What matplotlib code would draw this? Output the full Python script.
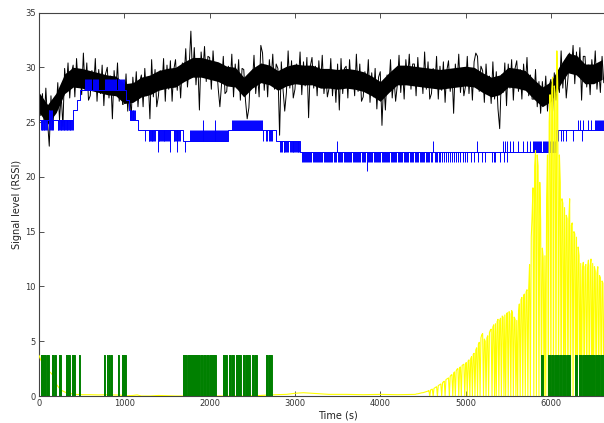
import numpy as np
import matplotlib
matplotlib.use('Agg')
import matplotlib.pyplot as plt

# ---------------- data ----------------
x_max = 6640
x_axis_max = 7000
black_dt = 20
black_v = [
    28.4, 25.6, 27.6, 24.9, 28.1, 25.1, 22.8, 27.4, 24.3, 26.9,
    25.9, 28.6, 25.2, 27.5, 24.6, 29.9, 28.0, 30.4, 27.2, 29.5,
    30.2, 27.3, 30.8, 28.3, 29.7, 27.5, 31.3, 27.9, 30.4, 27.0,
    27.4, 29.7, 28.1, 30.8, 26.9, 29.8, 27.6, 30.2, 26.5, 29.4,
    30.0, 27.2, 29.2, 25.3, 29.7, 27.7, 30.4, 26.9, 28.8, 26.6,
    26.7, 29.4, 26.0, 28.3, 25.4, 29.1, 27.2, 29.6, 26.4, 28.7,
    29.3, 26.4, 29.9, 27.4, 28.8, 25.3, 30.7, 27.3, 29.8, 26.4,
    27.4, 29.7, 28.1, 30.8, 26.9, 30.2, 28.0, 30.6, 26.9, 29.8,
    30.7, 27.9, 29.9, 27.2, 30.4, 29.0, 31.7, 28.2, 30.1, 33.3,
    29.1, 31.8, 28.4, 30.7, 26.1, 31.4, 29.5, 31.9, 28.7, 31.0,
    30.9, 28.0, 31.5, 29.0, 30.4, 28.1, 26.4, 28.5, 31.0, 27.6,
    27.8, 30.1, 28.5, 31.2, 27.3, 30.3, 28.1, 30.7, 27.0, 29.9,
    29.8, 27.0, 25.3, 26.3, 29.5, 28.4, 31.1, 27.6, 29.5, 27.3,
    32.0, 31.3, 27.9, 30.2, 27.3, 30.7, 28.8, 31.2, 28.0, 30.3,
    29.9, 23.8, 30.5, 28.0, 26.0, 27.7, 31.5, 28.1, 30.6, 27.2,
    28.0, 30.3, 28.7, 31.4, 27.5, 30.5, 28.3, 30.9, 25.4, 30.1,
    30.9, 28.1, 30.1, 27.4, 30.6, 28.4, 31.1, 27.6, 29.5, 27.3,
    28.1, 30.8, 27.4, 29.7, 26.8, 30.3, 26.1, 30.8, 27.6, 29.9,
    30.1, 27.2, 30.7, 28.2, 29.6, 27.4, 31.2, 27.8, 30.3, 26.9,
    27.3, 29.6, 28.0, 30.7, 26.8, 29.5, 27.3, 29.9, 26.2, 29.1,
    29.6, 24.7, 28.8, 26.1, 29.3, 28.0, 30.7, 27.2, 29.1, 26.9,
    28.4, 31.1, 27.7, 30.0, 27.1, 30.7, 28.8, 31.2, 28.0, 30.3,
    30.3, 27.4, 30.9, 28.4, 29.8, 27.6, 31.4, 28.0, 30.5, 27.1,
    27.6, 29.9, 28.3, 31.0, 27.1, 30.1, 27.9, 30.5, 26.8, 29.7,
    30.6, 27.8, 29.8, 25.8, 30.3, 28.5, 31.2, 27.7, 29.6, 27.4,
    28.3, 31.0, 27.6, 29.9, 27.0, 30.5, 31.3, 31.0, 27.8, 30.1,
    29.7, 26.8, 30.3, 27.8, 29.2, 26.7, 30.5, 27.1, 29.6, 26.2,
    24.4, 29.3, 27.7, 30.4, 26.5, 30.3, 28.1, 30.7, 27.0, 29.9,
    30.6, 27.8, 29.8, 27.1, 30.3, 28.2, 30.9, 27.4, 29.3, 27.1,
    27.1, 29.8, 26.4, 28.7, 25.8, 28.7, 26.8, 29.2, 26.0, 28.3,
    28.9, 26.0, 29.5, 27.0, 28.4, 27.7, 31.5, 28.1, 30.6, 27.2,
    29.0, 31.3, 29.7, 32.0, 28.5, 31.4, 29.2, 31.8, 27.0, 31.0,
    31.0, 28.2, 30.2, 27.5, 30.7, 28.8, 31.5, 28.0, 29.9, 27.7,
    31.0, 28.6,
]
# dense core of the black trace, every 100 s
black_core_dt = 100
black_core_lo = [25.9, 24.8, 25.85, 27.6, 28.2, 28.1, 27.9, 27.7, 27.5, 27.4,
                 26.7, 26.8, 27.3, 27.5, 27.9, 28.1, 28.2, 28.7, 29.1, 29.1,
                 28.9, 28.7, 28.3, 28.2, 27.3, 28.1, 28.6, 28.4, 27.9, 28.3,
                 28.5, 28.4, 28.4, 28.1, 28.1, 28.0, 28.1, 28.0, 27.8, 27.4,
                 26.9, 27.7, 28.4, 28.4, 28.3, 28.2, 28.1, 28.0, 28.1, 28.2,
                 28.3, 28.2, 27.7, 27.3, 27.5, 28.2, 28.1, 27.9, 27.1, 26.4,
                 26.9, 28.3, 29.5, 29.3, 28.5, 28.5, 28.9]
black_core_hi = [27.7, 26.6, 27.65, 29.4, 30.0, 29.9, 29.7, 29.5, 29.3, 29.2,
                 28.5, 28.6, 29.1, 29.3, 29.7, 29.9, 30.0, 30.5, 30.9, 30.9,
                 30.7, 30.5, 30.1, 30.0, 29.1, 29.9, 30.4, 30.2, 29.7, 30.1,
                 30.3, 30.2, 30.2, 29.9, 29.9, 29.8, 29.9, 29.8, 29.6, 29.2,
                 28.7, 29.5, 30.2, 30.2, 30.1, 30.0, 29.9, 29.8, 29.9, 30.0,
                 30.1, 30.0, 29.5, 29.1, 29.3, 30.0, 29.9, 29.7, 28.9, 28.2,
                 28.7, 30.1, 31.3, 31.1, 30.3, 30.3, 30.7]

# blue: baseline steps
blue_step_t = [0, 400, 440, 480, 1025, 1050, 1070, 1165, 1685, 2215, 2780, 3065, 6060, 6640]
blue_step_v = [25.15, 26.1, 27.0, 27.9, 27.0, 26.1, 25.15, 24.25, 23.25, 24.25, 23.25, 22.3, 24.25, 24.25]

# blue: short excursions to another level
blue_to_289 = [540, 552, 563, 575, 590, 602, 615, 628, 640, 655, 668, 680, 695,
               770, 782, 793, 805, 816, 828, 840, 851, 862, 874, 885, 897, 908,
               920, 931, 943, 954, 966, 977, 989, 1000]
blue_to_261 = [112, 122, 133, 145, 156, 1072, 1080, 1088, 1096, 1104, 1112, 1120]
blue_to_2515 = [1918, 2063,
                2262, 2272, 2283, 2295, 2305, 2318, 2330, 2341, 2352, 2365, 2378,
                2390, 2402, 2414, 2425, 2437, 2450, 2462, 2473, 2485, 2497, 2510,
                2522, 2533, 2545, 2557, 2570, 2582, 2594, 2606, 2618,
                6322, 6341, 6380, 6438, 6466, 6518, 6528, 6540, 6552, 6563, 6575,
                6587, 6600, 6612, 6624, 6636]
blue_to_2425 = [22, 30, 38, 46, 55, 63, 71, 80, 88, 115, 126, 137, 148, 160,
                218, 226, 235, 244, 252, 261, 270, 280, 290, 298, 306, 315, 324,
                333, 342, 351, 360, 368, 377, 386, 395,
                1772, 1782, 1793, 1804, 1815, 1826, 1838, 1850, 1862, 1874, 1886,
                1897, 1909, 1920, 1932, 1945, 1957, 1968, 1980, 1992, 2004, 2015,
                2028, 2040, 2052, 2064, 2076, 2088, 2100, 2112, 2124, 2136, 2148,
                2160, 2172, 2184, 2196, 2208]
blue_to_2325 = [1243, 1285, 1293, 1302, 1311, 1320, 1330, 1340, 1350, 1360,
                1402, 1412, 1421, 1430, 1440, 1450, 1460, 1470, 1480, 1490, 1500,
                1510, 1520, 1532, 1578, 1588, 1598, 1610, 1620, 1632, 1643, 1652,
                2628, 2660, 2668, 2700, 2712, 2722, 2735,
                3490, 4622, 5130, 5434, 5462, 5489, 5520, 5559, 5618, 5676, 5715,
                5755, 5794, 5806, 5818, 5830, 5842, 5854, 5866, 5878, 5890, 5902,
                5914, 5926, 5938, 5950, 5962, 5974, 5986, 5998, 6010, 6022, 6034,
                6046, 6087, 6115, 6146, 6173, 6263, 6368]
blue_to_223 = [1400, 1535, 1614, 1712,
               2828, 2837, 2846, 2868, 2877, 2886, 2895, 2904, 2913, 2946, 2955,
               2964, 2973, 2982, 2991, 3000, 3010, 3020, 3030, 3040, 3050]
blue_to_2135 = [3080, 3092, 3105, 3116, 3130, 3141, 3155, 3168, 3180, 3193, 3207,
                3220, 3232, 3246, 3258, 3270, 3284, 3297, 3310, 3322, 3336, 3350,
                3362, 3376, 3388, 3402, 3415, 3428, 3440, 3455, 3468, 3481, 3504,
                3517, 3530, 3544, 3556, 3570, 3583, 3596, 3610, 3623, 3636, 3650,
                3662, 3676, 3690, 3703, 3716, 3728, 3742, 3755, 3768, 3782, 3795,
                3808, 3822, 3855, 3868, 3882, 3895, 3908, 3922, 3935, 3948, 3962,
                3975, 3988, 4002, 4015, 4028, 4042, 4055, 4068, 4082, 4095, 4108,
                4122, 4136, 4150, 4163, 4176, 4190, 4204, 4218, 4232, 4246, 4260,
                4274, 4288, 4302, 4316, 4330, 4345, 4360, 4374, 4388, 4402, 4416,
                4430, 4445, 4460, 4474, 4488, 4503, 4518, 4532, 4546, 4560, 4576,
                4590, 4605, 4640, 4655, 4670, 4686, 4700, 4725, 4748, 4770, 4795,
                4818, 4840, 4865, 4890, 4915, 4940, 4965, 4990, 5020, 5060, 5100,
                5150, 5190, 5230, 5310, 5330, 5350, 5400, 5445, 5480]
blue_to_205 = [3840]

# yellow: early part (irregular samples) and late part (10 s samples)
yellow1_t = [0, 20, 50, 80, 110, 140, 160, 180, 200, 220, 250, 280, 320, 370, 420,
             500, 600, 700, 800, 900, 960, 1000, 1100, 1150, 1200, 1300, 1400,
             1600, 1800, 2000, 2200, 2400, 2600, 2700, 2800, 2900, 2950, 3000,
             3100, 3200, 3300, 3400, 3600, 3800, 4000, 4200, 4390]
yellow1_v = [3.7, 3.3, 2.9, 2.6, 2.3, 2.1, 1.9, 1.5, 1.1, 0.9, 0.6, 0.45, 0.3,
             0.22, 0.15, 0.12, 0.12, 0.1, 0.12, 0.1, 0.08, 0.0, 0.05, 0.1, 0.0,
             0.0, 0.05, 0.0, 0.0, 0.0, 0.0, 0.0, 0.05, 0.1, 0.12, 0.15, 0.2,
             0.25, 0.3, 0.25, 0.2, 0.15, 0.15, 0.12, 0.15, 0.12, 0.15]
yellow2_t0 = 4400
yellow2_dt = 10
yellow2_v = [
    0.15, 0.15, 0.18, 0.2, 0.2, 0.22, 0.25, 0.25, 0.28, 0.3,
    0.3, 0.32, 0.35, 0.38, 0.4, 0.42, 0.45, 0.5, 0.0, 0.55,
    0.6, 0.62, 0.0, 0.7, 0.75, 0.8, 0.85, 0.0, 0.95, 1.0,
    1.05, 1.1, 0.0, 1.2, 1.3, 1.35, 0.0, 1.5, 1.55, 1.6,
    1.65, 0.0, 1.8, 1.9, 1.95, 0.0, 2.1, 2.2, 0.0, 2.3,
    2.45, 2.5, 0.0, 2.6, 2.65, 0.0, 2.8, 2.85, 2.9, 0.0,
    3.0, 3.05, 0.0, 3.2, 3.3, 0.0, 3.4, 3.6, 0.0, 3.8,
    3.9, 0.0, 4.2, 4.4, 0.0, 4.7, 4.9, 0.0, 5.3, 5.6,
    5.7, 0.0, 5.2, 5.0, 0.0, 5.3, 5.5, 0.0, 5.8, 6.0,
    6.1, 0.0, 6.3, 6.5, 0.0, 6.6, 0.0, 6.8, 7.0, 0.0,
    6.9, 7.1, 0.0, 7.3, 7.2, 0.0, 7.4, 0.0, 7.5, 7.6,
    0.0, 7.7, 7.5, 0.0, 7.8, 7.6, 0.0, 7.2, 7.0, 0.0,
    6.9, 0.0, 7.5, 8.4, 0.0, 8.8, 9.0, 0.0, 9.2, 9.3,
    0.0, 9.5, 9.7, 0.0, 9.8, 12.0, 0.0, 14.5, 16.5, 19.0,
    0.0, 21.0, 22.4, 0.0, 22.0, 21.0, 0.0, 19.5, 16.0, 0.0,
    13.5, 12.6, 0.0, 12.8, 0.0, 18.0, 22.0, 0.0, 25.0, 27.5,
    0.0, 28.0, 29.1, 0.0, 28.3, 27.6, 0.0, 31.5, 28.5, 0.0,
    22.0, 19.5, 0.0, 18.0, 17.6, 0.0, 17.2, 0.0, 16.5, 16.2,
    0.0, 16.0, 18.0, 0.0, 15.6, 15.8, 0.0, 15.0, 14.8, 0.0,
    14.5, 0.0, 13.6, 12.8, 0.0, 12.1, 0.0, 11.5, 12.2, 0.0,
    11.8, 12.0, 0.0, 11.6, 12.4, 0.0, 11.9, 12.5, 0.0, 12.1,
    0.0, 11.8, 11.4, 0.0, 11.2, 11.8, 0.0, 11.0, 10.8, 0.0,
    10.5, 10.3, 0.0, 10.2, 10.0,
]

# green: on/off signal
green_level = 3.75
green_on = [[20, 45], [50, 85], [92, 115], [157, 173], [192, 204], [235, 255],
            [320, 340], [345, 360], [392, 410], [415, 427], [466, 478],
            [760, 776], [792, 808], [815, 830], [847, 858], [925, 940],
            [972, 1020], [1682, 1700], [1705, 1733], [1752, 1780], [1785, 1811],
            [1819, 1850], [1856, 1882], [1897, 1925], [1930, 1960], [1965, 1987],
            [2000, 2040], [2045, 2078], [2152, 2175], [2180, 2203], [2230, 2255],
            [2260, 2281], [2313, 2340], [2345, 2372], [2391, 2420], [2425, 2450],
            [2455, 2477], [2497, 2525], [2530, 2556], [2662, 2685], [2697, 2728],
            [5882, 5902], [5972, 6005], [6012, 6040], [6048, 6070], [6075, 6100],
            [6105, 6125], [6137, 6180], [6185, 6223], [6282, 6310], [6325, 6370],
            [6375, 6420], [6427, 6470], [6476, 6520], [6525, 6580], [6585, 6640]]

x_ticks = [0, 1000, 2000, 3000, 4000, 5000, 6000]
y_ticks = [0, 5, 10, 15, 20, 25, 30, 35]
x_label = "Time (s)"
y_label = "Signal level (RSSI)"

# ---------------- drawing ----------------
fig = plt.figure(figsize=(6.04, 4.23), dpi=100)
# the reference is cropped on the right: the axes run past the image edge
ax = fig.add_axes([0.0646, 0.0638, 0.9887, 0.9066])

# black
core_t = black_core_dt * np.arange(len(black_core_lo))
ax.fill_between(core_t, black_core_lo, black_core_hi, color='black', lw=0, zorder=1)
black_t = black_dt * np.arange(len(black_v))
ax.plot(black_t, black_v, color='black', lw=0.7, zorder=1)

# blue
ax.step(blue_step_t, blue_step_v, where='post', color='blue', lw=0.7, zorder=2)
st = np.array(blue_step_t)
sv = np.array(blue_step_v)


def base_at(times):
    times = np.asarray(times, dtype=float)
    idx = np.searchsorted(st, times, side='right') - 1
    return sv[np.clip(idx, 0, len(sv) - 1)]


blue_spikes = [(28.9, blue_to_289), (26.1, blue_to_261), (25.15, blue_to_2515),
               (24.25, blue_to_2425), (23.25, blue_to_2325), (22.3, blue_to_223),
               (21.35, blue_to_2135), (20.5, blue_to_205)]
for level, times in blue_spikes:
    ax.vlines(times, base_at(times), level, color='blue', lw=0.7, zorder=2)

# yellow
yellow2_t = yellow2_t0 + yellow2_dt * np.arange(len(yellow2_v))
yt = np.concatenate([yellow1_t, yellow2_t])
yv = np.concatenate([yellow1_v, yellow2_v])
ax.plot(yt, yv, color='#ffff00', lw=0.8, zorder=3)

# green
gx = [0]
gy = [0]
for s, e in green_on:
    gx += [s, s, e, e]
    gy += [0, green_level, green_level, 0]
gx.append(x_max)
gy.append(0)
ax.fill_between(gx, gy, 0, color='green', lw=0, zorder=4)
ax.plot(gx, gy, color='green', lw=0.7, zorder=4)

ax.set_xlim(0, x_axis_max)
ax.set_ylim(0, 35)
ax.set_xticks(x_ticks)
ax.set_yticks(y_ticks)
ax.tick_params(direction='in', top=True, right=True, length=3.5, width=0.6,
               labelsize=6, pad=2.5, colors='#333333')
for sp in ax.spines.values():
    sp.set_color('#444444')
    sp.set_linewidth(0.8)
ax.set_xlabel(x_label, fontsize=7, labelpad=1.5, color='#222222')
ax.set_ylabel(y_label, fontsize=7, labelpad=2, color='#222222')

fig.savefig('out.png', dpi=100)
